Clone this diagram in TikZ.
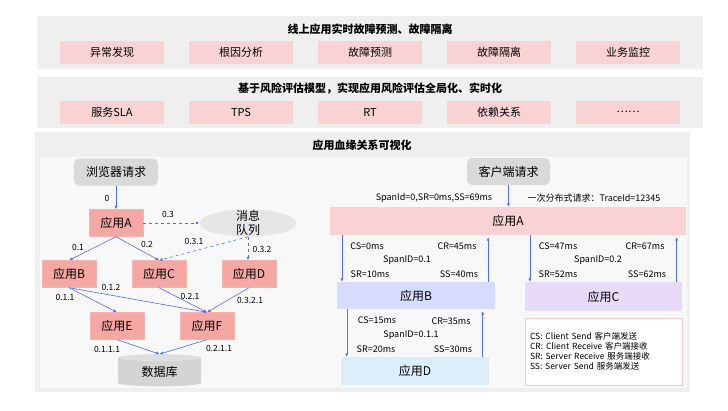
\documentclass[tikz,border=0pt]{standalone}
\usepackage{fontspec}
\setmainfont{Noto Sans CJK SC}
\usetikzlibrary{calc, shapes.geometric, arrows.meta}

\definecolor{panelgray}{HTML}{EFEFEF}
\definecolor{innergray}{HTML}{F8F8F8}
\definecolor{boxpink}{HTML}{F9D3D3}
\definecolor{appred}{HTML}{F4A7A3}
\definecolor{reqgray}{HTML}{D9D9D9}
\definecolor{mqgray}{HTML}{E6E6E6}
\definecolor{dbgray}{HTML}{D4D4D4}
\definecolor{dbtop}{HTML}{DEDEDE}
\definecolor{flowblue}{HTML}{4F6EF2}
\definecolor{appBblue}{HTML}{D6DCFB}
\definecolor{appCviolet}{HTML}{E8DBF9}
\definecolor{appDblue}{HTML}{DDEEFB}
\definecolor{legendline}{HTML}{F5CACA}

\tikzset{
	ptitle/.style={font=\fontsize{11}{12}\selectfont\bfseries, inner sep=0pt},
	pinkbox/.style={fill=boxpink, minimum width=104pt, minimum height=23pt, inner sep=0pt, font=\fontsize{11}{12}\selectfont},
	app/.style={fill=appred, draw=appred!85!white, minimum width=54pt, minimum height=27pt, inner sep=0pt, font=\fontsize{12}{14}\selectfont},
	req/.style={fill=reqgray, rounded corners=5pt, minimum height=27pt, inner sep=0pt, font=\fontsize{12}{14}\selectfont},
	span/.style={minimum height=27pt, inner sep=0pt, font=\fontsize{12}{14}\selectfont},
	flow/.style={draw=flowblue, line width=0.6pt, -{Latex[length=3.5pt,width=3pt]}},
	lbl/.style={font=\fontsize{8.5}{10}\selectfont, inner sep=0pt},
	tlbl/.style={font=\fontsize{9}{10}\selectfont, inner sep=0pt},
}

\begin{document}
\begin{tikzpicture}[x=1pt, y=-1pt]
	\useasboundingbox (0,0) rectangle (728,410);
	\fill[panelgray] (37,16) rectangle (703,69);
	\fill[panelgray] (37,77) rectangle (703,128);
	\fill[panelgray] (35,132) rectangle (690,392);
	\fill[innergray] (40,157) rectangle (687,388);

	\node (t1) [ptitle] at (370,29) {线上应用实时故障预测、故障隔离};
	\node (t2) [ptitle] at (370,89) {基于风险评估模型，实现应用风险评估全局化、实时化};
	\node (t3) [ptitle] at (362,145) {应用血缘关系可视化};

	\foreach \txt [count=\i] in {异常发现, 根因分析, 故障预测, 故障隔离, 业务监控}
		\node (u\i) [pinkbox] at (-17+129*\i, 52.5) {\txt};
	\foreach \txt [count=\i] in {服务SLA, TPS, RT, 依赖关系, ……}
		\node (m\i) [pinkbox] at (-17+129*\i, 112) {\txt};

	% 左侧调用链
	\node (br) [req, minimum width=84pt] at (116,172) {浏览器请求};
	\node (A) [app] at (116,223) {应用A};
	\node (mq) [ellipse, fill=mqgray, minimum width=97pt, inner sep=-3pt, align=center, font=\fontsize{12}{14}\selectfont] at (248,223) {消息\\队列};
	\node (B) [app] at (69,274) {应用B};
	\node (C) [app] at (159,274) {应用C};
	\node (D) [app] at (249,274) {应用D};
	\node (E) [app] at (117,326) {应用E};
	\node (F) [app] at (207,326) {应用F};
	\node (db) [cylinder, shape border rotate=90, aspect=0.18, cylinder uses custom fill, cylinder body fill=dbgray, cylinder end fill=dbtop, minimum width=83pt, minimum height=32pt, inner sep=0pt, font=\fontsize{12}{14}\selectfont] at (159.5,372) {数据库};

	\draw[flow] (br) -- (A);
	\draw[flow, dashed] (A) -- (mq);
	\draw[flow] (A.south) -- (B.north);
	\draw[flow] (A.south) -- (C.north);
	\draw[flow, dashed] (mq.south) -- (C.north);
	\draw[flow, dashed] (mq.south) -- (mq.south |- D.north);
	\draw[flow] (B.south) -- (E.north);
	\draw[flow] (B.south) -- (F.north);
	\draw[flow] (C.south) -- (F.north);
	\draw[flow] (D.south) -- (F.north);
	\draw[flow] (E.south) -- (db.north);
	\draw[flow] (F.south) -- (db.north);

	\node (l0) [lbl] at (107,198) {0};
	\node (l03) [lbl] at (168,214) {0.3};
	\node (l01) [lbl] at (78,247) {0.1};
	\node (l02) [lbl] at (147,244) {0.2};
	\node (l031) [lbl] at (194,241) {0.3.1};
	\node (l032) [lbl] at (262,249) {0.3.2};
	\node (l012) [lbl] at (111,287) {0.1.2};
	\node (l011) [lbl] at (65,297) {0.1.1};
	\node (l021) [lbl] at (190,296) {0.2.1};
	\node (l0321) [lbl] at (250,300) {0.3.2.1};
	\node (l0111) [lbl] at (107,349) {0.1.1.1};
	\node (l0211) [lbl] at (219,348) {0.2.1.1};

	% 右侧分布式追踪
	\node (cr) [req, minimum width=83pt] at (508.5,171.5) {客户端请求};
	\node (RA) [span, fill=boxpink, minimum width=356pt, minimum height=28pt] at (508,221) {应用A};
	\node (RB) [span, fill=appBblue, minimum width=158pt] at (416,295.5) {应用B};
	\node (RC) [span, fill=appCviolet, minimum width=157pt, minimum height=29pt] at (603.5,296.5) {应用C};
	\node (RD) [span, fill=appDblue, minimum width=148pt, minimum height=28pt] at (415,371) {应用D};
	\node (key) [draw=legendline, fill=white, minimum width=157pt, minimum height=67pt, text width=147pt, inner sep=5pt, align=left, font=\fontsize{8.5}{10}\selectfont] at (603.5,351.5)
		{CS: Client Send 客户端发送\\CR: Client Receive 客户端接收\\SR: Server Receive 服务端接收\\SS: Server Send 服务端发送};

	\coordinate (ab) at ($(RB.north west)+(5,0)$);
	\coordinate (ba) at ($(RB.north east)+(-7,0)$);
	\coordinate (ac) at ($(RC.north west)+(5,0)$);
	\coordinate (ca) at ($(RC.north east)+(-5.5,0)$);
	\coordinate (bd) at ($(RD.north west)+(6,0)$);
	\coordinate (dbk) at ($(RD.north east)+(-6.5,0)$);

	\draw[flow] (cr) -- (cr |- RA.north);
	\draw[flow] (ab |- RA.south) -- (ab);
	\draw[flow] (ba) -- ($(ba |- RA.south)+(0,2)$);
	\draw[flow] (ac |- RA.south) -- (ac);
	\draw[flow] (ca) -- ($(ca |- RA.south)+(0,2)$);
	\draw[flow] (bd |- RB.south) -- (bd);
	\draw[flow] (dbk) -- ($(dbk |- RB.south)+(0,2)$);

	\node (s0) [tlbl] at (434,198) {SpanId=0,SR=0ms,SS=69ms};
	\node (tr) [tlbl] at (594,198) {一次分布式请求：TraceId=12345};
	\node (cs1) [tlbl] at (367,246) {CS=0ms};
	\node (cr1) [tlbl] at (457,246) {CR=45ms};
	\node (sp1) [tlbl] at (407,260) {SpanID=0.1};
	\node (sr1) [tlbl] at (370,274) {SR=10ms};
	\node (ss1) [tlbl] at (459,274) {SS=40ms};
	\node (cs2) [tlbl] at (558,246) {CS=47ms};
	\node (cr2) [tlbl] at (645,246) {CR=67ms};
	\node (sp2) [tlbl] at (598,260) {SpanID=0.2};
	\node (sr2) [tlbl] at (558,274) {SR=52ms};
	\node (ss2) [tlbl] at (647,274) {SS=62ms};
	\node (cs3) [tlbl] at (377,320) {CS=15ms};
	\node (cr3) [tlbl] at (451,321) {CR=35ms};
	\node (sp3) [tlbl] at (411,335) {SpanID=0.1.1};
	\node (sr3) [tlbl] at (376,349) {SR=20ms};
	\node (ss3) [tlbl] at (453,349) {SS=30ms};
\end{tikzpicture}
\end{document}
